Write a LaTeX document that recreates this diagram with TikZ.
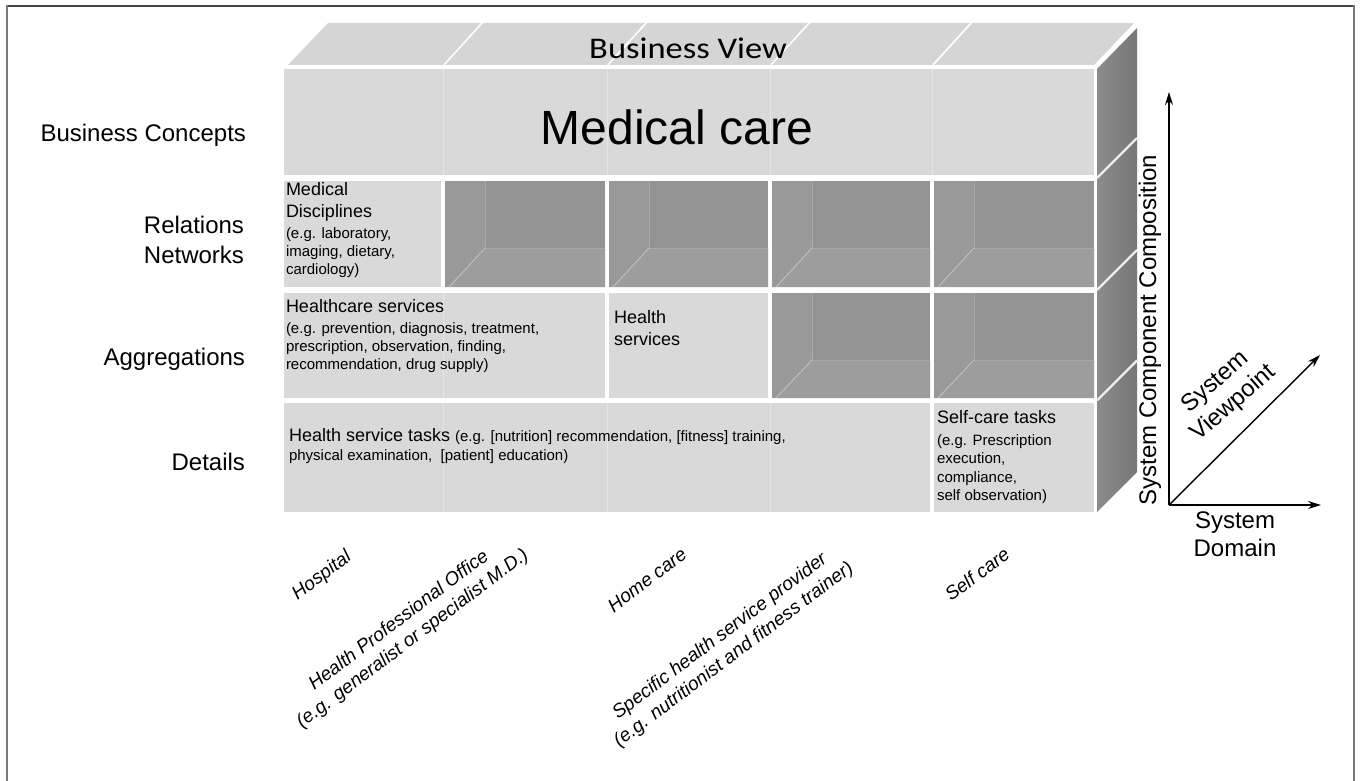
\documentclass[tikz,border=0pt]{standalone}
\usepackage{fontspec}
\setmainfont{Liberation Sans}
\newfontfamily\calibfont[FakeStretch=1.15]{Carlito}
\usetikzlibrary{arrows.meta}
\definecolor{lightc}{HTML}{D9D9D9}
\definecolor{topc}{HTML}{D5D5D5}
\definecolor{backw}{HTML}{939393}
\definecolor{leftw}{HTML}{999999}
\definecolor{floorw}{HTML}{9D9D9D}
\definecolor{sideL}{HTML}{8C8C8C}
\definecolor{sideR}{HTML}{767676}
\definecolor{frameT}{HTML}{444444}
\definecolor{frameS}{HTML}{7A7A7A}
\definecolor{faint}{HTML}{E6E6E6}
\newcommand\darkcell[4]{%
  \fill[backw] (#1,#2) rectangle (#3,#4);
  \fill[leftw] (#1,#2) -- (#1+40,#2) -- (#1+40,#2+67) -- (#1+4,#4) -- (#1,#4) -- cycle;
  \fill[floorw] (#1+40,#2+67) -- (#3,#2+67) -- (#3,#4) -- (#1+4,#4) -- cycle;
  \draw[white!45!backw, line width=0.8pt] (#1+40,#2+67) -- (#1+4,#4);
  \draw[white!20!backw, line width=0.6pt] (#1+40,#2) -- (#1+40,#2+67) -- (#3,#2+67);
}
\begin{document}
\begin{tikzpicture}[x=1pt,y=-1pt,
  every node/.style={inner sep=0pt, outer sep=0pt},
  rowlab/.style={font=\fontsize{24}{28}\selectfont, anchor=base east},
  bigtxt/.style={font=\fontsize{18}{22}\selectfont, anchor=base west},
  smalltxt/.style={font=\fontsize{15}{18}\selectfont, anchor=base west},
  collab/.style={font=\fontsize{19}{23}\selectfont\itshape, rotate=37, align=center},
  axislab/.style={font=\fontsize{24}{27.6}\selectfont, align=center},
  axis/.style={line width=1.4pt, -{Stealth[length=13pt,width=8pt]}}]
\useasboundingbox (0,0) rectangle (1362,781);
\fill[white] (0,0) rectangle (1362,781);
% frame
\draw[frameT, line width=1.5pt] (6,6) -- (1355,6);
\draw[frameS, line width=2.5pt] (7,5.5) -- (7,781);
\draw[frameS, line width=2.5pt] (1354,5.5) -- (1354,781);
% top face
\fill[topc] (288,65) -- (328,23) -- (1134,23) -- (1094,65) -- cycle;
\foreach \xx in {443,607,770,932}
  \draw[white, line width=1.6pt] (\xx,66) -- (\xx+40,22);
% side face
\shade[left color=sideL, right color=sideR] (1097,69) -- (1137,28) -- (1137,472) -- (1097,512) -- cycle;
\foreach \yy in {178,290,400.5}
  \draw[white!85!sideL, line width=2.2pt] (1097,\yy) -- (1137,\yy-40);
% front face row 1
\fill[lightc] (284,69) rectangle (1094,175);
\foreach \xx in {443,607,770,932}
  \draw[faint, line width=1pt] (\xx,69) -- (\xx,175);
% row 2
\fill[lightc] (284,181) rectangle (441,287);
\darkcell{445}{181}{605}{287}
\darkcell{609}{181}{768}{287}
\darkcell{772}{181}{930}{287}
\darkcell{934}{181}{1094}{287}
% row 3
\fill[lightc] (284,293) rectangle (605,398);
\draw[faint, line width=1pt] (443,293) -- (443,398);
\fill[lightc] (609,293) rectangle (768,398);
\darkcell{772}{293}{930}{398}
\darkcell{934}{293}{1094}{398}
% row 4
\fill[lightc] (284,403) rectangle (930,512);
\foreach \xx in {443,607,770}
  \draw[faint, line width=1pt] (\xx,403) -- (\xx,512);
\fill[lightc] (934,403) rectangle (1094,512);

% titles
\node[font=\calibfont\fontsize{30}{34}\selectfont, anchor=base] (bview) at (688,59) {Business View};
\node[font=\fontsize{48}{52}\selectfont, anchor=base] (medcare) at (677,145) {Medical care};

% row labels
\node[rowlab] (lbc) at (246,142) {Business Concepts};
\node[rowlab] (lrel) at (244,233) {Relations};
\node[rowlab] (lnet) at (244,263) {Networks};
\node[rowlab] (lagg) at (245,365) {Aggregations};
\node[rowlab] (ldet) at (245,470) {Details};

% cell texts
\node[bigtxt] (md1) at (286,195) {Medical};
\node[bigtxt] (md2) at (286,217) {Disciplines};
\node[smalltxt] (md3) at (286,238) {(e.g. laboratory,};
\node[smalltxt] (md4) at (286,256) {imaging, dietary,};
\node[smalltxt] (md5) at (286,274) {cardiology)};

\node[bigtxt] (hc1) at (286,312) {Healthcare services};
\node[smalltxt] (hc2) at (286,333) {(e.g. prevention, diagnosis, treatment,};
\node[smalltxt] (hc3) at (286,351) {prescription, observation, finding,};
\node[smalltxt] (hc4) at (286,369) {recommendation, drug supply)};

\node[bigtxt] (hs1) at (614,323) {Health};
\node[bigtxt] (hs2) at (614,345) {services};

\node[bigtxt] (hst1) at (289,441) {Health service tasks {\fontsize{15}{18}\selectfont (e.g. [nutrition] recommendation, [fitness] training,}};
\node[smalltxt] (hst2) at (289,460) {physical examination,~~[patient] education)};

\node[bigtxt] (sc1) at (937,423) {Self-care tasks};
\node[smalltxt] (sc2) at (937,445) {(e.g. Prescription};
\node[smalltxt] (sc3) at (937,463) {execution,};
\node[smalltxt] (sc4) at (937,482) {compliance,};
\node[smalltxt] (sc5) at (937,500) {self observation)};

% column labels
\node[collab] (chosp) at (322,576) {Hospital};
\node[collab] (choff) at (406,630) {Health Professional Office\\(e.g. generalist or specialist M.D.)};
\node[collab] (chome) at (647,580) {Home care};
\node[collab] (cspec) at (727,646) {Specific health service provider\\(e.g. nutritionist and fitness trainer)};
\node[collab] (cself) at (977,574) {Self care};

% axes
\coordinate (O) at (1169,505);
\coordinate (Ytop) at (1169,92);
\coordinate (Xend) at (1321,505);
\coordinate (Dend) at (1320,355);
\draw[axis] (O) -- (Ytop);
\draw[axis] (O) -- (Xend);
\draw[axis] (O) -- (Dend);
\node[axislab, rotate=90] (acomp) at (1150,330) {System Component Composition};
\node[axislab, rotate=41] (aview) at (1225,393) {System\\Viewpoint};
\node[axislab, anchor=north] (adom) at (1235,512) {System\\Domain};
\end{tikzpicture}
\end{document}
